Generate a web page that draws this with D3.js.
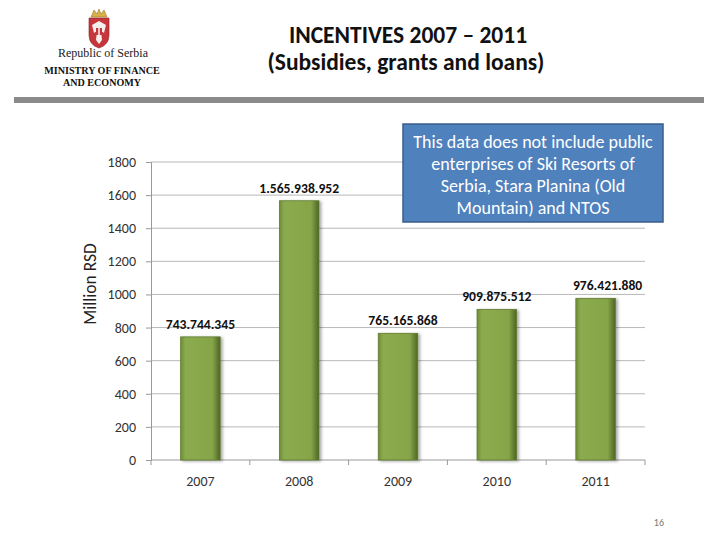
<!DOCTYPE html>
<html>
<head>
<meta charset="utf-8">
<script src="https://cdn.jsdelivr.net/npm/d3@7"></script>
<style>
  body { margin: 0; background: #fff; }
  svg { display: block; font-family: Carlito, Lato, "Noto Sans", sans-serif; }
</style>
</head>
<body>
<div id="chart-area"></div>
<script>
// chart data
const years = ["2007", "2008", "2009", "2010", "2011"];
const amounts = [743.744345, 1565.938952, 765.165868, 909.875512, 976.42188];
const amountLabels = ["743.744.345", "1.565.938.952", "765.165.868", "909.875.512", "976.421.880"];
const yTicks = [0, 200, 400, 600, 800, 1000, 1200, 1400, 1600, 1800];
const noteLines = ["This data does not include public", "enterprises of Ski Resorts of", "Serbia, Stara Planina (Old", "Mountain) and NTOS"];

const W = 728, H = 546;
const svg = d3.select('#chart-area').append('svg')
    .attr('width', W)
    .attr('height', H);

const defs = svg.append('defs');
const grad = defs.append('linearGradient').attr('id', 'barGrad')
    .attr('x1', 0).attr('x2', 1).attr('y1', 0).attr('y2', 0);
grad.append('stop').attr('offset', '0%').attr('stop-color', '#6f8c35');
grad.append('stop').attr('offset', '12%').attr('stop-color', '#8bab4f');
grad.append('stop').attr('offset', '80%').attr('stop-color', '#86a548');
grad.append('stop').attr('offset', '100%').attr('stop-color', '#4e6526');

const shadow = defs.append('filter').attr('id', 'barShadow')
    .attr('x', '-20%').attr('y', '-10%').attr('width', '150%').attr('height', '120%');
shadow.append('feDropShadow').attr('dx', 2).attr('dy', 1).attr('stdDeviation', 1.5)
    .attr('flood-color', '#000').attr('flood-opacity', 0.35);

// header: logo + ministry text
const logo = svg.append('g').attr('transform', 'translate(99,0)');
logo.append('path')
    .attr('d', 'M-8,17 L-5,10 L-2,14 L0,9 L2,14 L5,10 L8,17 Z')
    .attr('fill', '#d8b04a').attr('stroke', '#a07c25').attr('stroke-width', 0.6);
logo.append('path')
    .attr('d', 'M-10,18 L10,18 L10,35 Q10,45 0,48 Q-10,45 -10,35 Z')
    .attr('fill', '#c7363d').attr('stroke', '#8c1f24').attr('stroke-width', 0.6);
logo.append('path')
    .attr('d', 'M0,21 L-7,25 L-5,33 L-2,31 L-3,40 L0,44 L3,40 L2,31 L5,33 L7,25 Z')
    .attr('fill', '#f4f0ec');
logo.append('rect').attr('x', -3).attr('y', 28).attr('width', 6).attr('height', 7).attr('fill', '#c7363d');
logo.append('rect').attr('x', -0.7).attr('y', 28).attr('width', 1.4).attr('height', 7).attr('fill', '#fff');

const serif = '"Liberation Serif", "DejaVu Serif", serif';
svg.append('text').attr('x', 103).attr('y', 57).attr('text-anchor', 'middle')
    .style('font-family', serif).style('font-size', '12px').attr('fill', '#222')
    .text('Republic of Serbia');
svg.append('text').attr('x', 102).attr('y', 73.5).attr('text-anchor', 'middle')
    .style('font-family', serif).style('font-size', '10.1px').style('font-weight', 'bold').attr('fill', '#111')
    .text('MINISTRY OF FINANCE');
svg.append('text').attr('x', 102).attr('y', 86).attr('text-anchor', 'middle')
    .style('font-family', serif).style('font-size', '10.1px').style('font-weight', 'bold').attr('fill', '#111')
    .text('AND ECONOMY');

svg.append('rect').attr('x', 14).attr('y', 97).attr('width', 690).attr('height', 6).attr('fill', '#8a8a8a');

// title
svg.append('text').attr('x', 408).attr('y', 43).attr('text-anchor', 'middle')
    .style('font-size', '23.5px').style('font-weight', 'bold').attr('fill', '#111')
    .text('INCENTIVES 2007 \u2013 2011');
svg.append('text').attr('x', 406).attr('y', 70).attr('text-anchor', 'middle')
    .style('font-size', '23.5px').style('font-weight', 'bold').attr('fill', '#111')
    .text('(Subsidies, grants and loans)');

// chart
const plot = { left: 151, right: 645, top: 162, bottom: 460 };
const x = d3.scaleBand().domain(years).range([plot.left, plot.right]).paddingInner(0.6).paddingOuter(0.3);
const xOuter = d3.scaleBand().domain(years).range([plot.left, plot.right]);
const y = d3.scaleLinear().domain([0, 1800]).range([plot.bottom, plot.top]);

// gridlines
svg.append('g').selectAll('line').data(yTicks.filter(d => d > 0)).enter().append('line')
    .attr('x1', plot.left).attr('x2', plot.right)
    .attr('y1', d => y(d)).attr('y2', d => y(d))
    .attr('stroke', '#b8b8b8').attr('stroke-width', 1);

// y axis
const yAxis = svg.append('g').attr('transform', `translate(${plot.left},0)`)
    .call(d3.axisLeft(y).tickValues(yTicks).tickFormat(d3.format('d')).tickSize(5).tickPadding(10));
yAxis.select('.domain').attr('stroke', '#999');
yAxis.selectAll('.tick line').attr('stroke', '#999');
yAxis.selectAll('text').style('font-family', 'Carlito, Lato, "Noto Sans", sans-serif')
    .style('font-size', '14px').attr('fill', '#333');

// x axis with ticks between categories
const xAxisG = svg.append('g').attr('transform', `translate(0,${plot.bottom})`);
xAxisG.append('line').attr('x1', plot.left).attr('x2', plot.right).attr('y1', 0).attr('y2', 0).attr('stroke', '#999');
xAxisG.selectAll('.sep').data(years.concat(['end'])).enter().append('line')
    .attr('x1', (d, i) => plot.left + i * xOuter.bandwidth())
    .attr('x2', (d, i) => plot.left + i * xOuter.bandwidth())
    .attr('y1', 0).attr('y2', 5).attr('stroke', '#999');
xAxisG.selectAll('.lbl').data(years).enter().append('text')
    .attr('x', d => xOuter(d) + xOuter.bandwidth() / 2)
    .attr('y', 26).attr('text-anchor', 'middle')
    .style('font-size', '14px').attr('fill', '#333')
    .text(d => d);

// bars
svg.append('g').selectAll('rect').data(years).enter().append('rect')
    .attr('x', d => x(d))
    .attr('y', (d, i) => y(amounts[i]))
    .attr('width', x.bandwidth())
    .attr('height', (d, i) => plot.bottom - y(amounts[i]))
    .attr('fill', 'url(#barGrad)')
    .attr('stroke', '#5f7a2e').attr('stroke-width', 0.8)
    .attr('filter', 'url(#barShadow)');

// value labels
svg.append('g').selectAll('text').data(years).enter().append('text')
    .attr('x', d => x(d) + x.bandwidth() / 2 + (d === '2011' ? 12 : d === '2009' ? 5 : 0))
    .attr('y', (d, i) => y(amounts[i]) - 8)
    .attr('text-anchor', 'middle')
    .style('font-size', '13.6px').style('font-weight', 'bold').attr('fill', '#111')
    .text((d, i) => amountLabels[i]);

// axis title
svg.append('text')
    .attr('transform', 'translate(96,284) rotate(-90)')
    .attr('text-anchor', 'middle')
    .style('font-size', '17.5px').attr('fill', '#222')
    .text('Million RSD');

// note box
const note = svg.append('g');
note.append('rect').attr('x', 403).attr('y', 124).attr('width', 260).attr('height', 98)
    .attr('fill', '#4f81bd').attr('stroke', '#385d8a').attr('stroke-width', 1.5);
note.selectAll('text').data(noteLines).enter().append('text')
    .attr('x', 533).attr('y', (d, i) => 148 + i * 22)
    .attr('text-anchor', 'middle')
    .style('font-size', '18px').attr('fill', '#fff')
    .text(d => d);

// page number
svg.append('text').attr('x', 664).attr('y', 526).attr('text-anchor', 'end')
    .style('font-size', '10px').attr('fill', '#777').text('16');
</script>
</body>
</html>
